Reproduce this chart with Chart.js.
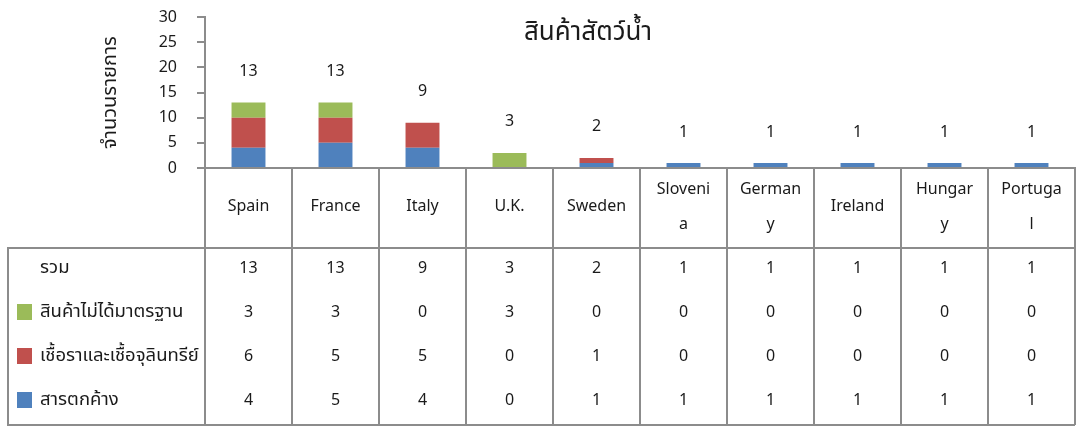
<!DOCTYPE html>
<html>
<head>
<meta charset="utf-8">
<script src="https://cdn.jsdelivr.net/npm/chart.js@4.4.1/dist/chart.umd.min.js"></script>
<style>
  html, body { margin: 0; padding: 0; background: #ffffff; }
  #wrap { width: 1076px; height: 426px; }
</style>
</head>
<body>
<div id="wrap"><canvas id="c" width="1076" height="426"></canvas></div>
<script>
// ---- data ----
const chartTitle = 'สินค้าสัตว์น้ำ';
const yAxisTitle = 'จำนวนรายการ';
const categories = ['Spain', 'France', 'Italy', 'U.K.', 'Sweden', ['Sloveni', 'a'], ['German', 'y'], 'Ireland', ['Hungar', 'y'], ['Portuga', 'l']];
const residues = [4, 5, 4, 0, 1, 1, 1, 1, 1, 1];       // สารตกค้าง
const microbes = [6, 5, 5, 0, 1, 0, 0, 0, 0, 0];       // เชื้อราและเชื้อจุลินทรีย์
const substandard = [3, 3, 0, 3, 0, 0, 0, 0, 0, 0];    // สินค้าไม่ได้มาตรฐาน
const totals = [13, 13, 9, 3, 2, 1, 1, 1, 1, 1];       // รวม
const seriesNames = ['สารตกค้าง', 'เชื้อราและเชื้อจุลินทรีย์', 'สินค้าไม่ได้มาตรฐาน'];
const totalName = 'รวม';
const yTicks = [0, 5, 10, 15, 20, 25, 30];

const FONT = "'Noto Sans', 'Noto Sans Thai', sans-serif";
const TEXT = '#1a1a1a';
const LINE = '#8c8c8c';
const colors = ['#4F81BD', '#C0504D', '#9BBB59'];

const tablePlugin = {
  id: 'tablePlugin',
  afterDraw(chart) {
    const ctx = chart.ctx;
    const xs = chart.scales.x;
    const ys = chart.scales.y;
    const area = chart.chartArea;
    const headerBottom = area.bottom + 80;
    const tableBottom = 425;
    const tableLeft = 8;
    ctx.save();
    // table borders
    ctx.strokeStyle = LINE;
    ctx.lineWidth = 2;
    ctx.beginPath();
    ctx.moveTo(tableLeft, headerBottom); ctx.lineTo(area.right, headerBottom);
    ctx.moveTo(tableLeft, tableBottom); ctx.lineTo(area.right, tableBottom);
    ctx.moveTo(tableLeft, headerBottom - 1); ctx.lineTo(tableLeft, tableBottom + 1);
    ctx.stroke();

    // title
    ctx.fillStyle = TEXT;
    ctx.textAlign = 'center';
    ctx.textBaseline = 'middle';
    ctx.font = '26px ' + FONT;
    ctx.fillText(chartTitle, 588, 33);

    // total labels above bars
    ctx.font = '16px ' + FONT;
    totals.forEach((t, i) => {
      ctx.fillText(String(t), xs.getPixelForValue(i), ys.getPixelForValue(t) - 31);
    });

    // header (category names)
    categories.forEach((c, i) => {
      const cx = xs.getPixelForValue(i);
      if (Array.isArray(c)) {
        ctx.fillText(c[0], cx, area.bottom + 21);
        ctx.fillText(c[1], cx, area.bottom + 56);
      } else {
        ctx.fillText(c, cx, area.bottom + 38);
      }
    });

    // rows
    const rows = [
      { name: totalName, values: totals, color: null },
      { name: seriesNames[2], values: substandard, color: colors[2] },
      { name: seriesNames[1], values: microbes, color: colors[1] },
      { name: seriesNames[0], values: residues, color: colors[0] }
    ];
    rows.forEach((r, k) => {
      const cy = headerBottom + 20 + k * 44;
      ctx.textAlign = 'left';
      ctx.fillStyle = TEXT;
      ctx.font = '18.5px ' + FONT;
      ctx.fillText(r.name, 40, cy);
      if (r.color) {
        ctx.fillStyle = r.color;
        ctx.fillRect(17, cy - 8, 15, 16);
      }
      ctx.fillStyle = TEXT;
      ctx.textAlign = 'center';
      ctx.font = '16px ' + FONT;
      r.values.forEach((v, i) => ctx.fillText(String(v), xs.getPixelForValue(i), cy));
    });
    ctx.restore();
  }
};

new Chart(document.getElementById('c'), {
  type: 'bar',
  data: {
    labels: categories,
    datasets: [
      { label: seriesNames[0], data: residues, backgroundColor: colors[0], borderWidth: 0 },
      { label: seriesNames[1], data: microbes, backgroundColor: colors[1], borderWidth: 0 },
      { label: seriesNames[2], data: substandard, backgroundColor: colors[2], borderWidth: 0 }
    ]
  },
  options: {
    responsive: false,
    animation: false,
    layout: { padding: { top: 17, right: 1, left: 0, bottom: 0 } },
    datasets: { bar: { barPercentage: 0.78, categoryPercentage: 0.5 } },
    plugins: { legend: { display: false }, tooltip: { enabled: false }, title: { display: false } },
    scales: {
      x: {
        stacked: true,
        grid: { display: true, drawOnChartArea: false, offset: true, tickLength: 257, color: LINE, lineWidth: 2 },
        border: { display: true, color: LINE, width: 2 },
        ticks: { display: false },
        afterFit(s) { s.height = 258; }
      },
      y: {
        stacked: true,
        min: 0, max: 30,
        afterBuildTicks(s) { s.ticks = yTicks.map(v => ({ value: v })); },
        grid: { display: true, drawOnChartArea: false, tickLength: 8, color: LINE, lineWidth: 2 },
        border: { display: true, color: LINE, width: 2 },
        ticks: { padding: 20, color: TEXT, font: { family: FONT, size: 16 } },
        title: { display: true, text: yAxisTitle, color: TEXT, font: { family: FONT, size: 20 }, padding: { top: 98, bottom: 0 } },
        afterFit(s) { s.width = 205; s.paddingTop = 0; s.paddingBottom = 0; }
      }
    }
  },
  plugins: [tablePlugin]
});
</script>
</body>
</html>
